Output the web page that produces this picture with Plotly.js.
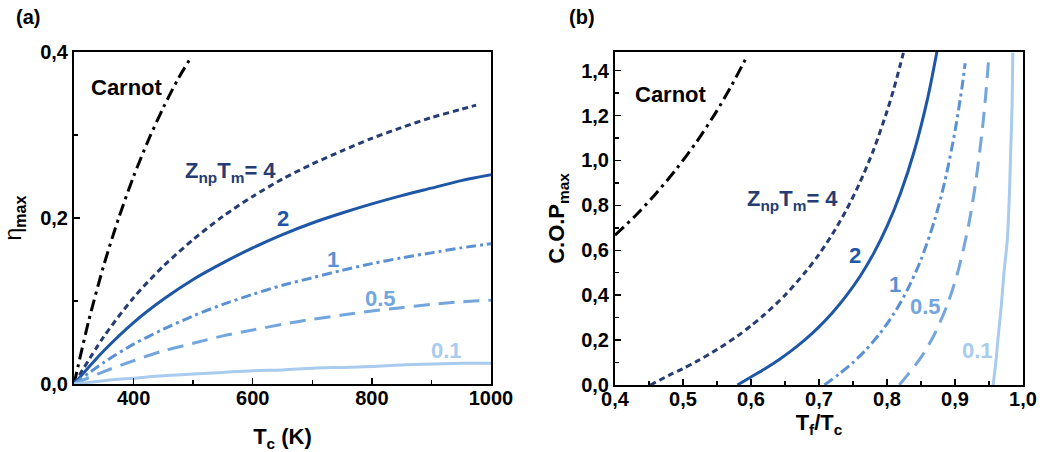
<!DOCTYPE html>
<html>
<head>
<meta charset="utf-8">
<script src="https://cdn.plot.ly/plotly-3.0.1.min.js"></script>
<style>html,body{margin:0;padding:0;background:#fff;}#chart{width:1054px;height:452px;}</style>
</head>
<body>
<div id="chart"></div>
<script>
// ---------- Panel (a): eta_max vs T_c ----------
const tcCarnot = [300, 325, 350, 375, 400, 425, 450, 475, 496];
const etaCarnot = [0, 0.077, 0.143, 0.2, 0.25, 0.294, 0.333, 0.368, 0.393];
const tc4 = [300, 350, 400, 450, 500, 550, 600, 650, 700, 750, 800, 850, 900, 950, 975];
const eta4 = [0, 0.057, 0.104, 0.142, 0.174, 0.202, 0.226, 0.247, 0.265, 0.281, 0.296, 0.309, 0.321, 0.331, 0.336];
const tc = [300, 350, 400, 450, 500, 550, 600, 650, 700, 750, 800, 850, 900, 950, 1000];
const eta2 = [0, 0.040, 0.074, 0.102, 0.126, 0.146, 0.164, 0.180, 0.194, 0.206, 0.217, 0.227, 0.236, 0.245, 0.252];
const eta1 = [0, 0.026, 0.048, 0.066, 0.082, 0.096, 0.108, 0.119, 0.128, 0.137, 0.145, 0.152, 0.158, 0.164, 0.169];
const eta05 = [0, 0.015, 0.028, 0.040, 0.049, 0.058, 0.065, 0.072, 0.078, 0.083, 0.088, 0.092, 0.096, 0.099, 0.101];
const eta01 = [0, 0.004, 0.007, 0.010, 0.012, 0.014, 0.016, 0.017, 0.019, 0.020, 0.021, 0.023, 0.024, 0.025, 0.025];

// ---------- Panel (b): C.O.P_max vs T_f/T_c ----------
const rCarnot = [0.40, 0.43, 0.46, 0.49, 0.52, 0.55, 0.57, 0.594];
const copCarnot = [0.667, 0.754, 0.852, 0.961, 1.083, 1.222, 1.326, 1.463];
const r4 = [0.452, 0.48, 0.5, 0.52, 0.55, 0.58, 0.6, 0.62, 0.65, 0.68, 0.7, 0.72, 0.74, 0.76, 0.78, 0.8, 0.81, 0.82, 0.825];
const cop4 = [0, 0.044, 0.073, 0.105, 0.158, 0.218, 0.264, 0.314, 0.400, 0.503, 0.582, 0.673, 0.778, 0.901, 1.045, 1.219, 1.319, 1.431, 1.49];
const r2 = [0.58, 0.6, 0.62, 0.64, 0.66, 0.68, 0.7, 0.72, 0.74, 0.76, 0.78, 0.8, 0.82, 0.84, 0.86, 0.875];
const cop2 = [0, 0.036, 0.071, 0.110, 0.154, 0.203, 0.259, 0.323, 0.397, 0.482, 0.584, 0.706, 0.855, 1.041, 1.28, 1.51];
const r1 = [0.708, 0.73, 0.75, 0.77, 0.79, 0.81, 0.83, 0.85, 0.87, 0.885, 0.9, 0.91, 0.915];
const cop1 = [0, 0.050, 0.100, 0.160, 0.231, 0.317, 0.424, 0.558, 0.734, 0.906, 1.13, 1.32, 1.433];
const r05 = [0.818, 0.83, 0.85, 0.87, 0.89, 0.905, 0.92, 0.93, 0.94, 0.945, 0.95];
const cop05 = [0, 0.044, 0.123, 0.227, 0.368, 0.513, 0.712, 0.893, 1.133, 1.286, 1.47];
const r01 = [0.956, 0.96, 0.963, 0.968, 0.972, 0.977, 0.980, 0.982, 0.984, 0.985];
const cop01 = [0, 0.1, 0.2, 0.35, 0.5, 0.65, 0.85, 1.05, 1.25, 1.48];

// tick labels
const xTicksA = [400, 600, 800, 1000];
const xTickTextA = ['400', '600', '800', '1000'];
const yTicksA = [0, 0.2, 0.4];
const yTickTextA = ['0,0', '0,2', '0,4'];
const xTicksB = [0.4, 0.5, 0.6, 0.7, 0.8, 0.9, 1.0];
const xTickTextB = ['0,4', '0,5', '0,6', '0,7', '0,8', '0,9', '1,0'];
const yTicksB = [0, 0.2, 0.4, 0.6, 0.8, 1.0, 1.2, 1.4];
const yTickTextB = ['0,0', '0,2', '0,4', '0,6', '0,8', '1,0', '1,2', '1,4'];

const C_CARNOT = '#000000', C4 = '#253d72', C2 = '#1d57a6', C1 = '#5b91d2', C05 = '#74a6de', C01 = '#a9cbee';
const D_CARNOT = '12px,5px,3px,5px', D4 = '6px,4px', D1 = '10px,4px,3px,4px', D05 = '16px,9px';

function tr(x, y, color, dash, ax) {
  return {x: x, y: y, type: 'scatter', mode: 'lines', xaxis: ax[0], yaxis: ax[1],
    line: {color: color, width: 3, dash: dash, shape: 'spline', smoothing: 0.8},
    showlegend: false, hoverinfo: 'skip'};
}
const A = ['x', 'y'], B = ['x2', 'y2'];
const data = [
  tr(tcCarnot, etaCarnot, C_CARNOT, D_CARNOT, A),
  tr(tc4, eta4, C4, D4, A),
  tr(tc, eta2, C2, 'solid', A),
  tr(tc, eta1, C1, D1, A),
  tr(tc, eta05, C05, D05, A),
  tr(tc, eta01, C01, 'solid', A),
  tr(rCarnot, copCarnot, C_CARNOT, D_CARNOT, B),
  tr(r4, cop4, C4, D4, B),
  tr(r2, cop2, C2, 'solid', B),
  tr(r1, cop1, C1, D1, B),
  tr(r05, cop05, C05, D05, B),
  tr(r01, cop01, C01, 'solid', B)
];

const FONT = 'Liberation Sans, Arial, sans-serif';
const tickFont = {family: FONT, size: 20, color: '#000', weight: 'bold'};
function axisBase() {
  return {showline: true, linecolor: '#000', linewidth: 2, mirror: true, showgrid: false, zeroline: false,
    ticks: 'inside', ticklen: 6, tickwidth: 1.5, tickcolor: '#000', tickfont: tickFont, tickmode: 'array'};
}
function ann(text, px, py, color, size) {
  return {text: text, x: px/1054, y: 1 - py/452, xref: 'paper', yref: 'paper', showarrow: false,
    xanchor: 'center', yanchor: 'middle', font: {family: FONT, size: size || 22, weight: 'bold', color: color}};
}
const layout = {
  width: 1054, height: 452,
  margin: {l: 0, r: 0, t: 0, b: 0},
  paper_bgcolor: '#fff', plot_bgcolor: '#fff',
  font: {family: FONT, color: '#000'},
  xaxis: Object.assign(axisBase(), {domain: [74/1054, 491/1054], range: [300, 1000], anchor: 'y',
    tickvals: xTicksA, ticktext: xTickTextA, ticklabelstandoff: -5,
    minor: {tickvals: [500, 700, 900], ticks: 'inside', ticklen: 4, tickcolor: '#000'},
    title: {text: 'T<sub>c</sub> (K)', font: {family: FONT, size: 22, weight: 'bold'}, standoff: 22}}),
  yaxis: Object.assign(axisBase(), {domain: [68/452, 400/452], range: [0, 0.4], anchor: 'x',
    tickvals: yTicksA, ticktext: yTickTextA,
    minor: {tickvals: [0.1, 0.3], ticks: 'inside', ticklen: 4, tickcolor: '#000'},
    title: {text: 'η<sub><b>max</b></sub>', font: {family: FONT, size: 23}, standoff: 12}}),
  xaxis2: Object.assign(axisBase(), {domain: [615/1054, 1023/1054], range: [0.4, 1.0], anchor: 'y2',
    tickvals: xTicksB, ticktext: xTickTextB, ticklabelstandoff: -5,
    minor: {tickvals: [0.45, 0.55, 0.65, 0.75, 0.85, 0.95], ticks: 'inside', ticklen: 4, tickcolor: '#000'},
    title: {text: 'T<sub>f</sub>/T<sub>c</sub>', font: {family: FONT, size: 22, weight: 'bold'}, standoff: 6}}),
  yaxis2: Object.assign(axisBase(), {domain: [67/452, 400/452], range: [0, 1.483], anchor: 'x2',
    tickvals: yTicksB, ticktext: yTickTextB,
    minor: {tickvals: [0.1, 0.3, 0.5, 0.7, 0.9, 1.1, 1.3], ticks: 'inside', ticklen: 4, tickcolor: '#000'},
    title: {text: 'C.O.P<sub>max</sub>', font: {family: FONT, size: 22, weight: 'bold'}, standoff: 10}}),
  annotations: [
    ann('(a)', 28, 17, '#000', 20),
    ann('(b)', 582, 17, '#000', 20),
    ann('Carnot', 127, 87, '#000'),
    ann('Z<sub>np</sub>T<sub>m</sub>= 4', 230, 172, C4),
    ann('2', 283, 218, C2),
    ann('1', 333, 259, C1),
    ann('0.5', 381, 298, C05),
    ann('0.1', 446, 350, C01),
    ann('Carnot', 671, 94, '#000'),
    ann('Z<sub>np</sub>T<sub>m</sub>= 4', 792, 200, C4),
    ann('2', 855, 255, C2),
    ann('1', 895, 284, C1),
    ann('0.5', 925, 306, C05),
    ann('0.1', 977, 350, C01)
  ]
};
Plotly.newPlot('chart', data, layout, {displayModeBar: false, staticPlot: true});
</script>
</body>
</html>
